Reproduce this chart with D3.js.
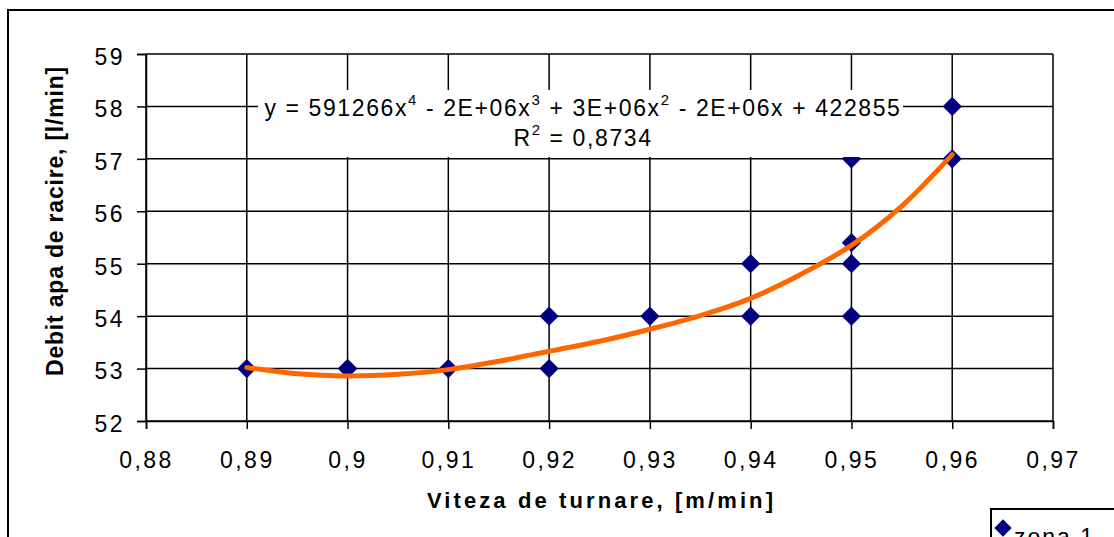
<!DOCTYPE html>
<html>
<head>
<meta charset="utf-8">
<script src="https://cdn.jsdelivr.net/npm/d3@7"></script>
<style>
  body { margin: 0; background: #fff; }
  text { font-family: "Liberation Sans", Arial, sans-serif; }
</style>
</head>
<body>
<script>
// measured points (zona 1)
const viteza = [0.89, 0.9, 0.9, 0.91, 0.92, 0.92, 0.93, 0.94, 0.94, 0.95, 0.95, 0.95, 0.95, 0.96, 0.96];
const debit  = [53, 53, 53, 53, 54, 53, 54, 55, 54, 57, 55.4, 55, 54, 58, 57];

// polynomial trendline
const trendX = [0.89, 0.895, 0.9, 0.905, 0.91, 0.915, 0.92, 0.925, 0.93, 0.935, 0.94, 0.945, 0.95, 0.955, 0.96];
const trendY = [53.02, 52.9, 52.86, 52.89, 52.98, 53.14, 53.33, 53.52, 53.75, 54.01, 54.34, 54.8, 55.35, 56.1, 57.08];

const xTicks = [0.88, 0.89, 0.9, 0.91, 0.92, 0.93, 0.94, 0.95, 0.96, 0.97];
const yTicks = [52, 53, 54, 55, 56, 57, 58, 59];

const W = 1114, H = 537;
const margin = {top: 54, right: 61, bottom: 116, left: 146};
const width = W - margin.left - margin.right,
      height = H - margin.top - margin.bottom;

let svg = d3.select("body").append("svg")
    .attr("width", W)
    .attr("height", H);

// outer chart frame (runs past the window)
svg.append("rect")
    .attr("x", 8).attr("y", 10)
    .attr("width", 1140).attr("height", 560)
    .attr("fill", "none").attr("stroke", "#000").attr("stroke-width", 2);

let g = svg.append("g")
    .attr("transform", `translate(${margin.left}, ${margin.top})`);

let xScale = d3.scaleLinear().domain([0.88, 0.97]).range([0, width]);
let yScale = d3.scaleLinear().domain([52, 59]).range([height, 0]);

const fmt = d => String(d).replace(".", ",");

// gridlines
g.append("g")
    .selectAll("line")
    .data(yTicks)
    .enter().append("line")
      .attr("x1", 0).attr("x2", width)
      .attr("y1", d => yScale(d)).attr("y2", d => yScale(d))
      .attr("stroke", "#000").attr("stroke-width", 1.5);

g.append("g")
    .selectAll("line")
    .data(xTicks)
    .enter().append("line")
      .attr("x1", d => xScale(d)).attr("x2", d => xScale(d))
      .attr("y1", 0).attr("y2", height)
      .attr("stroke", "#000").attr("stroke-width", 1.5);

// axes
const xAxis = d3.axisBottom(xScale).tickValues(xTicks).tickFormat(fmt).tickSize(8).tickPadding(23);
const yAxis = d3.axisLeft(yScale).tickValues(yTicks).tickFormat(d => d).tickSize(9).tickPadding(12);

let gx = g.append("g")
    .attr("transform", `translate(0, ${height})`)
    .call(xAxis);
let gy = g.append("g").call(yAxis);

[gx, gy].forEach(a => {
  a.select(".domain").attr("stroke", "#000").attr("stroke-width", 1.5);
  a.selectAll(".tick line").attr("stroke", "#000").attr("stroke-width", 1.5);
  a.selectAll(".tick text")
      .attr("fill", "#000")
      .style("font-size", "23px")
      .style("letter-spacing", "2.5px");
});
gy.selectAll(".tick text").attr("dy", "0.45em");

// trendline
const line = d3.line()
    .x(d => xScale(d[0]))
    .y(d => yScale(d[1]))
    .curve(d3.curveCatmullRom);

// equation label with white background
let eq = g.append("g");
eq.append("rect")
    .attr("x", 112).attr("y", 36)
    .attr("width", 645).attr("height", 67)
    .attr("fill", "#fff");

let l1 = eq.append("text")
    .attr("x", 437).attr("y", 62)
    .attr("text-anchor", "middle")
    .style("font-size", "23px")
    .style("letter-spacing", "1.6px");
const parts = [["y = 591266x"], ["4", 1], [" - 2E+06x"], ["3", 1], [" + 3E+06x"], ["2", 1], [" - 2E+06x + 422855"]];
parts.forEach((p, i) => {
  let t = l1.append("tspan").text(p[0]);
  if (p[1]) t.attr("dy", -11).style("font-size", "15px");
  else if (i > 0) t.attr("dy", 11);
});

let l2 = eq.append("text")
    .attr("x", 437).attr("y", 92)
    .attr("text-anchor", "middle")
    .style("font-size", "23px")
    .style("letter-spacing", "1.6px");
l2.append("tspan").text("R");
l2.append("tspan").attr("dy", -11).style("font-size", "15px").text("2");
l2.append("tspan").attr("dy", 11).text(" = 0,8734");

// points
const pts = viteza.map((v, i) => [v, debit[i]]);
g.append("g")
    .selectAll("path")
    .data(pts)
    .enter().append("path")
      .attr("d", d3.symbol().type(d3.symbolSquare).size(185))
      .attr("transform", d => `translate(${xScale(d[0])}, ${yScale(d[1])}) rotate(45)`)
      .attr("fill", "#000080");

// label box sits over the 57 marker at 0.95, as in the original
eq.raise();

g.append("path")
    .datum(trendX.map((v, i) => [v, trendY[i]]))
    .attr("d", line)
    .attr("fill", "none")
    .attr("stroke", "#ff6600")
    .attr("stroke-width", 5)
    .attr("stroke-linejoin", "round")
    .attr("stroke-linecap", "round");

// axis titles
svg.append("text")
    .attr("x", margin.left + width / 2 + 2).attr("y", 508)
    .attr("text-anchor", "middle")
    .style("font-size", "22px")
    .style("font-weight", "bold")
    .style("letter-spacing", "3.1px")
    .text("Viteza de turnare, [m/min]");

svg.append("text")
    .attr("transform", "translate(63, 221) rotate(-90)")
    .attr("text-anchor", "middle")
    .style("font-size", "23px")
    .style("font-weight", "bold")
    .style("letter-spacing", "0.8px")
    .text("Debit apa de racire, [l/min]");

// legend
let leg = svg.append("g").attr("transform", "translate(991, 509)");
leg.append("rect")
    .attr("width", 160).attr("height", 60)
    .attr("fill", "#fff").attr("stroke", "#000").attr("stroke-width", 2);
leg.append("path")
    .attr("d", d3.symbol().type(d3.symbolSquare).size(150))
    .attr("transform", "translate(12, 19) rotate(45)")
    .attr("fill", "#000080");
leg.append("text")
    .attr("x", 23).attr("y", 36)
    .style("font-size", "23px")
    .style("letter-spacing", "2px")
    .text("zona 1");
</script>
</body>
</html>
